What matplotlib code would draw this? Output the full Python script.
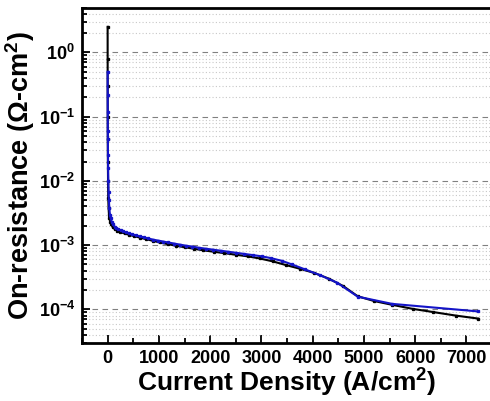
import numpy as np
import matplotlib
matplotlib.use('Agg')
import matplotlib.pyplot as plt
from matplotlib.ticker import LogLocator, FixedLocator, MultipleLocator, FuncFormatter

# black series (current density A/cm2, on-resistance ohm-cm2)
j_black = [0, 0.5, 1, 2, 3, 5, 8, 12, 18, 26, 36, 50, 70, 100, 140, 190, 250, 330, 420, 520,
           630, 750, 880, 1020, 1170, 1330, 1500, 1680, 1870, 2070, 2280, 2500, 2730, 2970,
           3220, 3480, 3750, 4030, 4320, 4600, 4880, 5200, 5550, 5950, 6350, 6800, 7230]
r_black = [2.5, 0.8, 0.3, 0.1, 0.045, 0.02, 0.01, 0.0055, 0.0038, 0.003, 0.0026, 0.0023, 0.0021,
           0.0019, 0.00178, 0.00168, 0.0016, 0.00152, 0.00145, 0.00138, 0.00131, 0.00124, 0.00117,
           0.0011, 0.00104, 0.00098, 0.00093, 0.00088, 0.00083, 0.00079, 0.00075, 0.00071, 0.00067,
           0.00062, 0.00056, 0.00049, 0.00043, 0.00037, 0.0003, 0.00023, 0.00016, 0.000135,
           0.000118, 0.000102, 0.000091, 0.00008, 0.000072]

# blue series
j_blue = [0, 1, 2, 3, 5, 7, 10, 14, 19, 25, 33, 45, 60, 80, 105, 135, 170, 210, 255, 305,
          360, 420, 485, 555, 630, 710, 795, 885, 980, 1080, 1185, 1295, 1410, 1530, 1655,
          1785, 1920, 2060, 2205, 2355, 2510, 2670, 2835, 3005, 3180, 3400, 3600, 3850, 4150,
          4480, 4880, 5550, 7230]
r_blue = [0.5, 0.22, 0.12, 0.06, 0.045, 0.025, 0.016, 0.010, 0.0068, 0.005, 0.0038, 0.003,
          0.0026, 0.0023, 0.0021, 0.00195, 0.00185, 0.00177, 0.0017, 0.00164, 0.00158, 0.00152,
          0.00147, 0.00142, 0.00137, 0.00132, 0.00127, 0.00122, 0.00118, 0.00114, 0.0011,
          0.00106, 0.00102, 0.00098, 0.00095, 0.00091, 0.00088, 0.00085, 0.00082, 0.00079,
          0.00076, 0.00073, 0.0007, 0.00067, 0.00063, 0.00057, 0.0005, 0.00042, 0.00034,
          0.00026, 0.000158, 0.000122, 0.000093]

x_ticks = [0, 1000, 2000, 3000, 4000, 5000, 6000, 7000]

plt.rcParams['font.family'] = 'Liberation Sans'
plt.rcParams['font.weight'] = 'bold'
plt.rcParams['mathtext.fontset'] = 'custom'
plt.rcParams['mathtext.rm'] = 'Liberation Sans:bold'
plt.rcParams['mathtext.bf'] = 'Liberation Sans:bold'
plt.rcParams['mathtext.it'] = 'Liberation Sans:bold'
plt.rcParams['mathtext.default'] = 'bf'

fig = plt.figure(figsize=(4.9, 4.01), dpi=100)
ax = fig.add_axes([82 / 490, 58 / 401, 410 / 490, 335.5 / 401])

ax.plot(j_black, r_black, color='black', lw=1.5, marker='s', ms=1.4, zorder=3)
ax.plot(j_blue, r_blue, color='#1414c8', lw=1.5, marker='s', ms=1.4, zorder=4)

ax.set_yscale('log')
ax.set_xlim(-500, 7500)
ax.set_ylim(3e-5, 5)

ax.xaxis.set_major_locator(FixedLocator(x_ticks))
ax.xaxis.set_minor_locator(MultipleLocator(500))
ax.yaxis.set_major_locator(LogLocator(base=10, numticks=20))
ax.yaxis.set_minor_locator(LogLocator(base=10, subs=np.arange(2, 10), numticks=20))
ax.yaxis.set_major_formatter(FuncFormatter(lambda v, p: r'$10^{%d}$' % int(round(np.log10(v)))))

ax.grid(True, which='major', axis='y', color='#808080', ls=(0, (5, 4)), lw=0.8)
ax.grid(True, which='minor', axis='y', color='#c8c8c8', ls=(0, (1, 2)), lw=0.8)

ax.tick_params(which='both', direction='in', labelsize=13, width=1.3)
ax.tick_params(which='major', length=6)
ax.tick_params(which='minor', length=3.5)
ax.tick_params(axis='x', pad=5)
ax.tick_params(axis='y', pad=5)
for s in ax.spines.values():
    s.set_linewidth(2)

ax.set_xlabel(r'Current Density (A/cm$^{2}$)', fontsize=19, fontweight='bold', labelpad=0)
ax.set_ylabel(r'On-resistance ($\Omega$-cm$^{2}$)', fontsize=19.5, fontweight='bold', labelpad=1)

fig.savefig('out.png', dpi=100)
